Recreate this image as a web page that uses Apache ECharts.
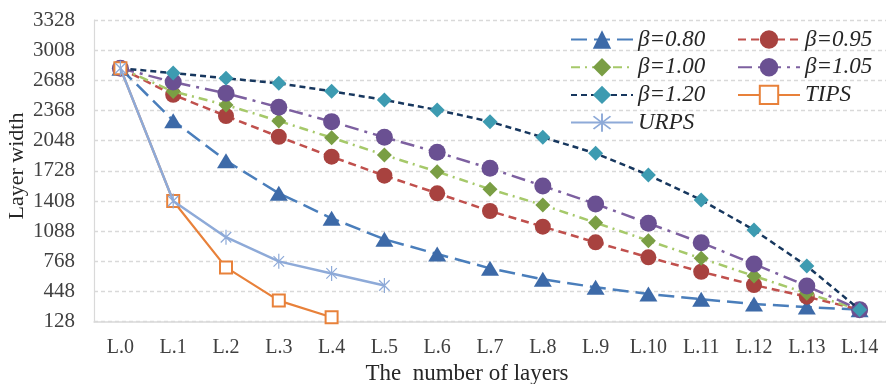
<!DOCTYPE html>
<html>
<head>
<meta charset="utf-8">
<script src="https://cdn.jsdelivr.net/npm/echarts@6/dist/echarts.min.js"></script>
<style>
  html, body { margin: 0; padding: 0; background: #fff; }
  #chart { width: 886px; height: 384px; }
</style>
</head>
<body>
<div id="chart"></div>
<script>
// Layer width per layer for each pruning setting
const categories = ['L.0','L.1','L.2','L.3','L.4','L.5','L.6','L.7','L.8','L.9','L.10','L.11','L.12','L.13','L.14'];
const beta080 = [2816, 2260, 1836, 1490, 1225, 1002, 846, 694, 578, 493, 422, 366, 316, 283, 256];
const beta095 = [2816, 2535, 2310, 2090, 1878, 1677, 1490, 1302, 1136, 970, 811, 658, 517, 393, 256];
const beta100 = [2816, 2570, 2427, 2257, 2080, 1896, 1719, 1533, 1366, 1178, 987, 800, 613, 429, 256];
const beta105 = [2816, 2670, 2551, 2402, 2250, 2084, 1925, 1755, 1568, 1377, 1172, 966, 740, 507, 256];
const beta120 = [2816, 2765, 2710, 2657, 2572, 2480, 2374, 2250, 2084, 1914, 1684, 1419, 1101, 719, 256];
const tips = [2816, 1408, 704, 352, 176];
const urps = [2816, 1408, 1024, 768, 640, 512];
const yTicks = [128, 448, 768, 1088, 1408, 1728, 2048, 2368, 2688, 3008, 3328];

const FONT = '"Liberation Serif", "Times New Roman", serif';

// Asterisk marker: one vertical bar and two diagonals
const STAR = 'path://M9.2,0L10.8,0L10.8,20L9.2,20Z' +
  'M3.57,2.43L17.57,16.43L16.43,17.57L2.43,3.57Z' +
  'M17.57,3.57L3.57,17.57L2.43,16.43L16.43,2.43Z';

function lineSeries(name, data, opts) {
  return {
    name: name,
    type: 'line',
    data: data,
    symbol: opts.symbol,
    symbolSize: opts.size,
    symbolKeepAspect: true,
    lineStyle: { color: opts.line, width: opts.width || 2.5, type: opts.dash || 'solid' },
    itemStyle: Object.assign({ color: opts.marker }, opts.item || {}),
    z: opts.z || 2,
    animation: false
  };
}

const chart = echarts.init(document.getElementById('chart'), null, { renderer: 'canvas' });

const legendText = { fontFamily: FONT, fontSize: 23, fontStyle: 'italic', color: '#262626', lineHeight: 22 };

chart.setOption({
  backgroundColor: '#fff',
  animation: false,
  grid: { left: 94, top: 20, bottom: 62.3, width: 798, containLabel: false },
  legend: [
    {
      orient: 'vertical', left: 570, top: 28, itemGap: 4.7, padding: 0,
      itemWidth: 62, itemHeight: 23,
      textStyle: legendText,
      data: ['β=0.80', 'β=1.00', 'β=1.20', 'URPS']
    },
    {
      orient: 'vertical', left: 737, top: 28, itemGap: 4.7, padding: 0,
      itemWidth: 62, itemHeight: 23,
      textStyle: legendText,
      data: ['β=0.95', 'β=1.05', 'TIPS']
    }
  ],
  xAxis: {
    type: 'category',
    data: categories,
    boundaryGap: true,
    axisLine: { lineStyle: { color: '#d9d9d9', width: 1.5 } },
    axisTick: { show: false },
    axisLabel: { fontFamily: FONT, fontSize: 20, color: '#404040', margin: 16 },
    splitLine: { show: false }
  },
  yAxis: {
    type: 'value',
    min: 128,
    max: 3328,
    axisLine: { show: true, lineStyle: { color: '#d9d9d9', width: 1.2 } },
    axisTick: { show: false, customValues: yTicks },
    axisLabel: {
      fontFamily: FONT, fontSize: 21, color: '#404040', margin: 19,
      customValues: yTicks,
      formatter: function (v) { return String(v); }
    },
    splitLine: { show: true, lineStyle: { color: '#d9d9d9', width: 1.3, type: [4, 3] } }
  },
  graphic: [
    {
      type: 'text',
      x: 17, y: 166, rotation: Math.PI / 2,
      style: { text: 'Layer width', fontFamily: FONT, fontSize: 22, fill: '#262626', align: 'center', verticalAlign: 'middle' }
    },
    {
      type: 'text',
      x: 467, y: 374,
      style: { text: 'The  number of layers', fontFamily: FONT, fontSize: 23, fill: '#262626', align: 'center', verticalAlign: 'middle' }
    }
  ],
  series: [
    lineSeries('β=0.80', beta080, { symbol: 'triangle', size: [18, 15], line: '#4a7ebb', marker: '#3d6aa8', dash: [16, 7], z: 2 }),
    lineSeries('β=0.95', beta095, { symbol: 'circle', size: 16, line: '#c0504d', marker: '#a8423f', dash: [8, 5], z: 3 }),
    lineSeries('β=1.00', beta100, { symbol: 'diamond', size: 15, line: '#a6c96a', marker: '#7a9e44', dash: [9, 5, 2, 5], z: 4 }),
    lineSeries('β=1.05', beta105, { symbol: 'circle', size: 17, line: '#7d60a0', marker: '#6a5092', dash: [14, 6, 3, 6], z: 5 }),
    lineSeries('β=1.20', beta120, { symbol: 'diamond', size: 15, line: '#17375e', marker: '#3d9bb1', dash: [6, 4], z: 6 }),
    lineSeries('TIPS', tips, { symbol: 'emptyRect', size: 12, line: '#e8813a', marker: '#e8813a', width: 2.2, item: { borderWidth: 2.5, borderColor: '#e8813a' }, z: 7 }),
    lineSeries('URPS', urps, { symbol: STAR, size: 15, line: '#8eaad8', marker: '#8eaad8', width: 2.5, z: 8 })
  ]
});
</script>
</body>
</html>
